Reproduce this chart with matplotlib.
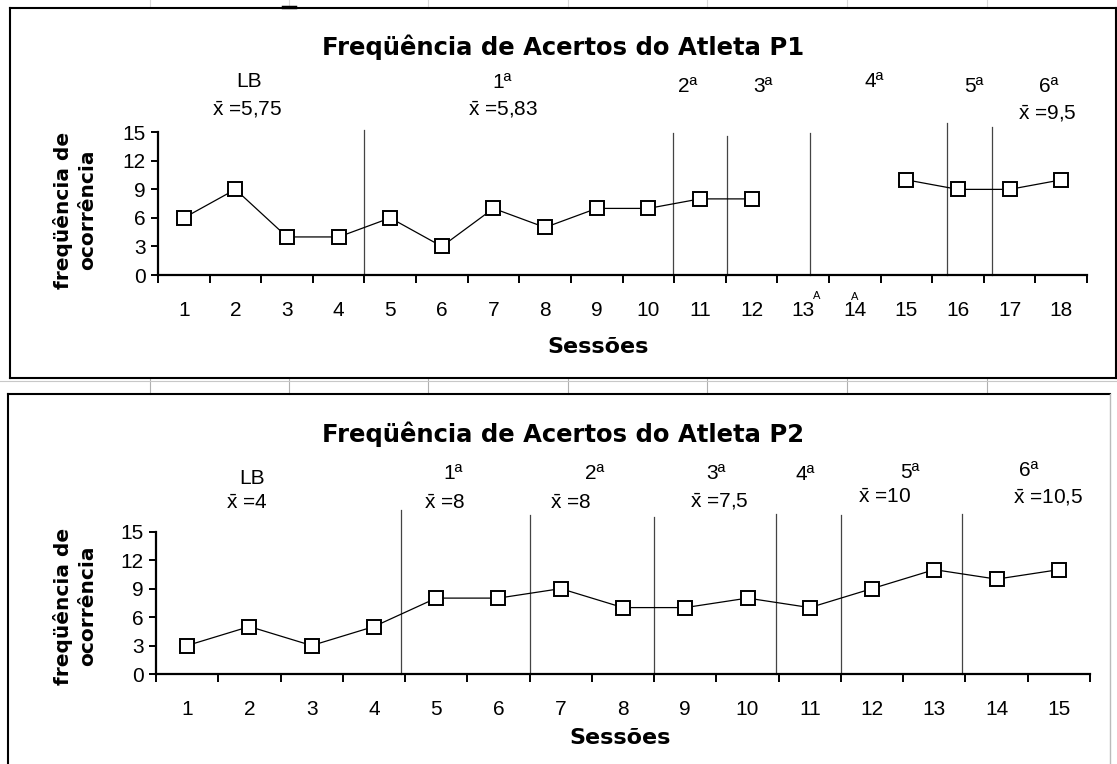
import matplotlib
matplotlib.use("Agg")
import matplotlib.pyplot as plt
from matplotlib.lines import Line2D
import numpy as np

plt.rcParams['font.family'] = ['Liberation Sans', 'DejaVu Sans']
plt.rcParams['mathtext.fontset'] = 'custom'
plt.rcParams['mathtext.rm'] = 'Liberation Sans'
plt.rcParams['mathtext.it'] = 'Liberation Sans'

# ---------------- data ----------------
sessions_p1 = list(range(1, 19))
values_p1 = [6, 9, 4, 4, 6, 3, 7, 5, 7, 7, 8, 8, np.nan, np.nan, 10, 9, 9, 10]
phase_lines_p1 = [4.5, 10.47, 11.52, 13.14, 15.78, 16.66]
phase_tops_p1 = [15.25, 14.9, 14.6, 14.9, 16.0, 15.6]
phase_labels_p1 = ["LB", "1ª", "2ª", "3ª", "4ª", "5ª", "6ª"]
phase_label_x_p1 = [2.27, 7.16, 10.76, 12.22, 14.37, 16.31, 17.76]
phase_label_y_p1 = [20.3, 20.2, 19.8, 19.8, 20.3, 19.8, 19.8]
mean_labels_p1 = ["5,75", "5,83", "9,5"]
mean_x_p1 = [2.23, 7.19, 17.73]
mean_y_p1 = [17.35, 17.35, 17.0]

sessions_p2 = list(range(1, 16))
values_p2 = [3, 5, 3, 5, 8, 8, 9, 7, 7, 8, 7, 9, 11, 10, 11]
phase_lines_p2 = [4.44, 6.5, 8.5, 10.46, 11.5, 13.44]
phase_tops_p2 = [17.3, 16.75, 16.6, 16.9, 16.75, 16.9]
phase_labels_p2 = ["LB", "1ª", "2ª", "3ª", "4ª", "5ª", "6ª"]
phase_label_x_p2 = [2.04, 5.27, 7.54, 9.49, 10.93, 12.6, 14.52]
phase_label_y_p2 = [20.6, 21.1, 21.1, 21.1, 21.0, 21.2, 21.4]
mean_labels_p2 = ["4", "8", "8", "7,5", "10", "10,5"]
mean_x_p2 = [1.95, 5.13, 7.16, 9.54, 12.2, 14.82]
mean_y_p2 = [18.0, 18.0, 18.0, 18.2, 18.6, 18.6]

yticks = [0, 3, 6, 9, 12, 15]
title_p1 = "Freqüência de Acertos do Atleta P1"
title_p2 = "Freqüência de Acertos do Atleta P2"
ylabel = "freqüência de\nocorrência"
xlabel = "Sessões"

W, H = 1117, 764
fig = plt.figure(figsize=(W / 100, H / 100), dpi=100)
fig.patch.set_facecolor("white")

BOLD = ['DejaVu Sans']


def fx(px):
    return px / W


def fy(py):
    return 1 - py / H


def fline(x0, y0, x1, y1, **kw):
    fig.add_artist(Line2D([fx(x0), fx(x1)], [fy(y0), fy(y1)], transform=fig.transFigure, **kw))


# spreadsheet gridlines and panel borders
for gx in [150, 289, 428, 568, 707, 847, 987]:
    fline(gx, 378, gx, 394, color="#b0b0b0", lw=0.8)
    fline(gx, 0, gx, 8, color="#d8d8d8", lw=0.8)
fline(0, 381, W, 381, color="#c8c8c8", lw=0.8)
fline(10, 8.3, 1116, 8.3, color="black", lw=1.5)
fline(10, 8.3, 10, 378.3, color="black", lw=1.5)
fline(10, 378.3, 1116, 378.3, color="black", lw=1.5)
fline(1116, 8.3, 1116, 378.3, color="black", lw=1.5)
fline(8, 394.3, 1110, 394.3, color="black", lw=1.5)
fline(8, 394.3, 8, H, color="black", lw=1.5)
fline(1110, 394.3, 1110, H, color="#bbbbbb", lw=1.0)
fline(283, 6.5, 295, 6.5, color="black", lw=2.5)


def make_panel(ax, sessions, values, lines, tops, plabels, plx, ply, mlabels, mx, my):
    n = len(sessions)
    ax.set_xlim(0.5, n + 0.5)
    ax.set_ylim(0, 15)
    ax.plot(sessions, values, color="black", lw=0.9, marker="s", markersize=9.5,
            markerfacecolor="white", markeredgecolor="black", markeredgewidth=1.4,
            clip_on=False, zorder=3)
    for xv, top in zip(lines, tops):
        ax.plot([xv, xv], [0, top], color="#444444", lw=0.9, clip_on=False, zorder=2)
    for s in ["top", "right"]:
        ax.spines[s].set_visible(False)
    ax.spines["left"].set_linewidth(1.6)
    ax.spines["bottom"].set_linewidth(1.6)
    ax.set_yticks(yticks)
    ax.set_yticklabels([str(v) for v in yticks])
    ax.set_xticks(np.arange(0.5, n + 1, 1.0))
    ax.set_xticklabels([])
    ax.set_xticks(sessions, minor=True)
    ax.set_xticklabels([str(s) for s in sessions], minor=True)
    ax.tick_params(axis="x", which="major", direction="out", length=6, width=1.4)
    ax.tick_params(axis="x", which="minor", length=0, pad=19, labelsize=15)
    ax.tick_params(axis="y", direction="out", length=5, width=1.4, labelsize=15, pad=4)
    for t, x, y in zip(plabels, plx, ply):
        ax.text(x, y, t, fontsize=15, ha="center", va="center", clip_on=False)
    for t, x, y in zip(mlabels, mx, my):
        ax.text(x, y, r"$\bar{\mathrm{x}}$ =" + t, fontsize=15, ha="center", va="center",
                clip_on=False)


ax1 = fig.add_axes([fx(158), fy(275), fx(1087 - 158), (275 - 132.3) / H])
make_panel(ax1, sessions_p1, values_p1, phase_lines_p1, phase_tops_p1,
           phase_labels_p1, phase_label_x_p1, phase_label_y_p1,
           mean_labels_p1, mean_x_p1, mean_y_p1)
fig.text(fx(563), fy(47), title_p1, fontsize=17.5, fontweight="bold", family=BOLD,
         ha="center", va="center")
fig.text(fx(75), fy(210), ylabel, fontsize=14.5, fontweight="bold", family=BOLD,
         rotation=90, ha="center", va="center", linespacing=1.3, multialignment="center")
fig.text(fx(598), fy(347), xlabel, fontsize=16, fontweight="bold", family=BOLD,
         ha="center", va="center")
ax1.text(13.27, -2.2, "A", fontsize=8, ha="center", va="center", clip_on=False)
ax1.text(14.0, -2.3, "A", fontsize=8, ha="center", va="center", clip_on=False)

ax2 = fig.add_axes([fx(156), fy(674), fx(1090 - 156), (674 - 531.7) / H])
make_panel(ax2, sessions_p2, values_p2, phase_lines_p2, phase_tops_p2,
           phase_labels_p2, phase_label_x_p2, phase_label_y_p2,
           mean_labels_p2, mean_x_p2, mean_y_p2)
fig.text(fx(563), fy(434), title_p2, fontsize=17.5, fontweight="bold", family=BOLD,
         ha="center", va="center")
fig.text(fx(75), fy(606), ylabel, fontsize=14.5, fontweight="bold", family=BOLD,
         rotation=90, ha="center", va="center", linespacing=1.3, multialignment="center")
fig.text(fx(620), fy(738), xlabel, fontsize=16, fontweight="bold", family=BOLD,
         ha="center", va="center")

fig.savefig("out.png", dpi=100, facecolor="white")
